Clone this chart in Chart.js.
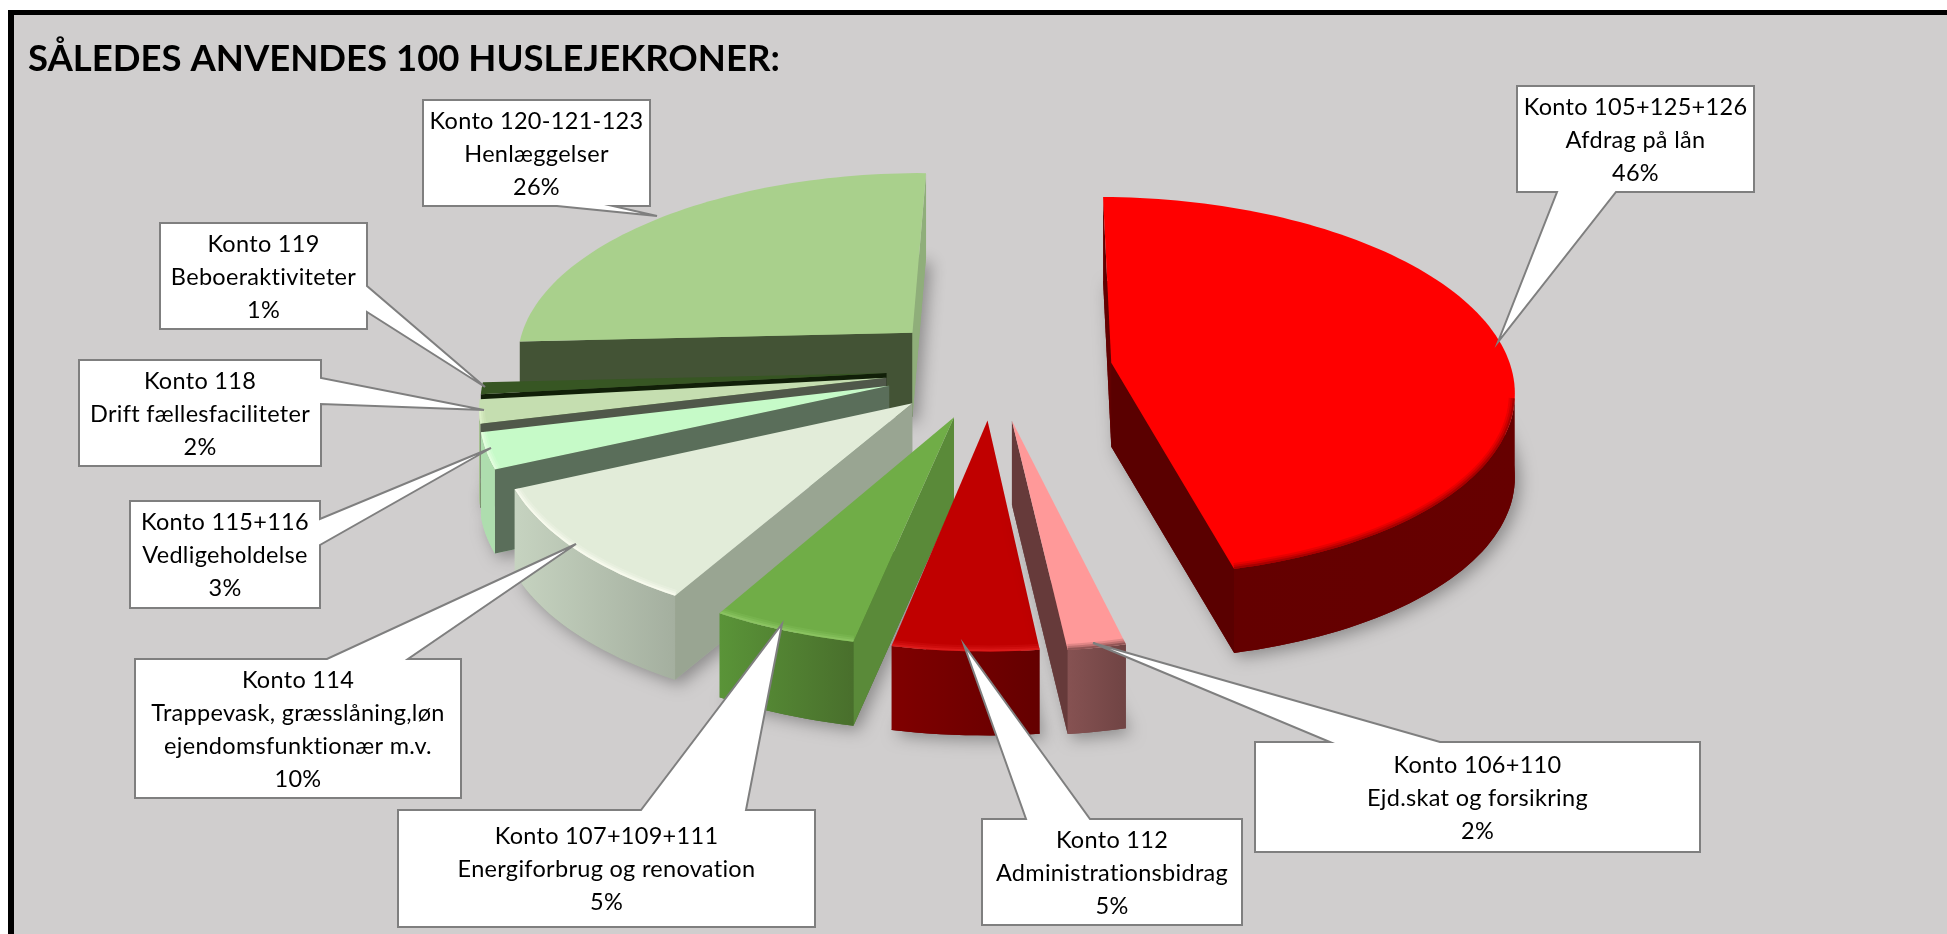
<!DOCTYPE html>
<html>
<head>
<meta charset="utf-8">
<title>Huslejekroner</title>
<script src="https://cdn.jsdelivr.net/npm/chart.js@4/dist/chart.umd.js"></script>
<style>
    html, body { margin: 0; padding: 0; background: #fff; overflow: hidden; }
    #frame { position: absolute; left: 8px; top: 10px; right: 0; bottom: 0; background: #D0CECE;
             border-left: 6px solid #000; border-top: 5px solid #000; }
    /* a bit wider than the window so the pie centre lands where it should */
    #wrap { position: absolute; left: 0; top: 0; width: 1957px; height: 934px; }
</style>
</head>
<body>
<div id="frame"></div>
<div id="wrap"><canvas id="chart"></canvas></div>
<script>
// Data, clockwise from the top
const accounts = ['Konto 105+125+126', 'Konto 106+110', 'Konto 112', 'Konto 107+109+111', 'Konto 114', 'Konto 115+116', 'Konto 118', 'Konto 119', 'Konto 120-121-123'];
const descriptions = [['Afdrag på lån'], ['Ejd.skat og forsikring'], ['Administrationsbidrag'], ['Energiforbrug og renovation'], ['Trappevask, græsslåning,løn', 'ejendomsfunktionær m.v.'], ['Vedligeholdelse'], ['Drift fællesfaciliteter'], ['Beboeraktiviteter'], ['Henlæggelser']];
const shares = [46, 2, 5, 5, 10, 3, 2, 1, 26];

// How far each slice is pulled out of the pie, in px of the 400px radius
const explode = [120, 108, 106, 106, 106, 108, 107, 106, 114];

// Slice colours
const topColors = ['#FF0000', '#FF9999', '#C00000', '#70AD47', '#E2ECD9', '#C6FAC8', '#C5DEB0', '#375623', '#A9D08C'];
const bevelColors = ['#8A0000', '#6E4040', '#E52222', '#93CB6A', '#FFFFF4', '#ECFFE6', '#E4F5CF', '#2B4519', '#BDE8A2'];
const wallLeft = ['#640000', '#865252', '#800000', '#5A9438', '#C6D3C0', '#AEDDAE', '#A5C090', '#2C4A1A', '#8FAE7A'];
const wallRight = ['#660000', '#704444', '#640000', '#496F2C', '#A4AF9F', '#AEDDAE', '#A5C090', '#2C4A1A', '#8FAE7A'];
const sideStart = ['#620000', '#663A3A', '#660000', '#5A8A39', '#99A592', '#5A6E5A', '#50584A', '#111F08', '#435335'];
const sideEnd = ['#5A0000', '#663A3A', '#660000', '#5A8A39', '#99A592', '#5A6E5A', '#50584A', '#111F08', '#8FAE7A'];

// Back to front
const paintOrder = [8, 7, 6, 5, 4, 3, 2, 1, 0];

// Callout boxes: [left, top, right, bottom], tip of the pointer and the two pointer base points
const callouts = [
    { box: [1517, 86, 1754, 192], side: 'bottom', base: [1557, 1616], tip: [1498, 342] },
    { box: [1255, 742, 1700, 852], side: 'top', base: [1330, 1440], tip: [1093, 643] },
    { box: [982, 819, 1242, 925], side: 'top', base: [1026, 1090], tip: [964, 645] },
    { box: [398, 810, 815, 927], side: 'top', base: [641, 746], tip: [782, 624] },
    { box: [135, 659, 461, 798], side: 'top', base: [327, 408], tip: [576, 544] },
    { box: [130, 501, 320, 608], side: 'right', base: [519, 545], tip: [491, 448] },
    { box: [79, 360, 321, 466], side: 'right', base: [378, 404], tip: [484, 410] },
    { box: [160, 223, 367, 329], side: 'right', base: [286, 312], tip: [485, 387] },
    { box: [423, 100, 650, 206], side: 'bottom', base: [557, 613], tip: [657, 216] }
];

const DEPTH = 84;      // height of the pie on screen
const SQUASH = 0.47;   // tilt of the pie
const PERSP = 0.125;   // perspective strength
const RADIUS = 400;

// Turns a point on a slice into screen coordinates
function makeProjector(arc) {
    const mid = (arc.startAngle + arc.endAngle) / 2;
    const e = arc.options.offset / arc.outerRadius;
    const apexU = e * Math.cos(mid);
    const apexV = e * Math.sin(mid);
    return {
        apexU: apexU,
        apexV: apexV,
        at: function (angle, r, drop) {
            const u = apexU + r * Math.cos(angle);
            const v = apexV + r * Math.sin(angle);
            const w = 1 - PERSP * v;
            return [arc.x + arc.outerRadius * u / w, arc.y + arc.outerRadius * SQUASH * v / w + (drop || 0)];
        }
    };
}

function tracePolygon(ctx, pts) {
    ctx.beginPath();
    pts.forEach((p, i) => i ? ctx.lineTo(p[0], p[1]) : ctx.moveTo(p[0], p[1]));
    ctx.closePath();
}

function drawSlice(ctx, arc, i) {
    const proj = makeProjector(arc);
    const a0 = arc.startAngle, a1 = arc.endAngle;
    const steps = Math.max(4, Math.ceil((a1 - a0) / (Math.PI / 120)));
    const eyeU = -proj.apexU, eyeV = 1 / PERSP - proj.apexV;

    const topArc = [], bottomArc = [], visibleTop = [];
    for (let s = 0; s <= steps; s++) {
        const a = a0 + (a1 - a0) * s / steps;
        topArc.push(proj.at(a, 1));
        bottomArc.push(proj.at(a, 1, DEPTH));
        if (Math.cos(a) * (eyeU - Math.cos(a)) + Math.sin(a) * (eyeV - Math.sin(a)) > 0) {
            visibleTop.push(s);
        }
    }
    const apex = proj.at(0, 0);
    const apexLow = proj.at(0, 0, DEPTH);
    const topFace = [apex].concat(topArc);

    // floor shadow
    ctx.save();
    ctx.shadowColor = 'rgba(0,0,0,0.32)';
    ctx.shadowBlur = 16;
    ctx.shadowOffsetX = 5;
    ctx.shadowOffsetY = 5;
    ctx.fillStyle = wallRight[i];
    tracePolygon(ctx, [apexLow].concat(bottomArc));
    ctx.fill();
    ctx.restore();

    // radial walls, only the ones facing the viewer
    if (Math.sin(a0) * eyeU - Math.cos(a0) * eyeV > 0) {
        ctx.fillStyle = sideStart[i];
        tracePolygon(ctx, [apex, topArc[0], bottomArc[0], apexLow]);
        ctx.fill();
    }
    if (-Math.sin(a1) * eyeU + Math.cos(a1) * eyeV > 0) {
        ctx.fillStyle = sideEnd[i];
        tracePolygon(ctx, [apex, topArc[steps], bottomArc[steps], apexLow]);
        ctx.fill();
    }

    // outer curved wall
    if (visibleTop.length > 1) {
        const first = visibleTop[0], last = visibleTop[visibleTop.length - 1];
        const upper = topArc.slice(first, last + 1);
        const lower = bottomArc.slice(first, last + 1).reverse();
        const xs = upper.map(p => p[0]);
        const grad = ctx.createLinearGradient(Math.min(...xs), 0, Math.max(...xs), 0);
        grad.addColorStop(0, wallLeft[i]);
        grad.addColorStop(1, wallRight[i]);
        ctx.fillStyle = grad;
        tracePolygon(ctx, upper.concat(lower));
        ctx.fill();
    }

    // top face
    ctx.fillStyle = topColors[i];
    tracePolygon(ctx, topFace);
    ctx.fill();

    // soft bevel along the rim
    if (visibleTop.length > 1) {
        const rim = topArc.slice(visibleTop[0], visibleTop[visibleTop.length - 1] + 1);
        ctx.save();
        tracePolygon(ctx, topFace);
        ctx.clip();
        ctx.strokeStyle = bevelColors[i];
        ctx.lineJoin = 'round';
        [[12, 0.2], [8, 0.3], [4, 0.55]].forEach(pass => {
            ctx.lineWidth = pass[0];
            ctx.globalAlpha = pass[1];
            ctx.beginPath();
            rim.forEach((p, n) => n ? ctx.lineTo(p[0], p[1]) : ctx.moveTo(p[0], p[1]));
            ctx.stroke();
        });
        ctx.restore();
    }
}

// Pie controller that paints the library's arcs as a tilted exploded pie
class Pie3dController extends Chart.PieController {
    draw() {
        const ctx = this.chart.ctx;
        const arcs = this.getMeta().data;
        paintOrder.forEach(i => drawSlice(ctx, arcs[i], i));
    }
}
Pie3dController.id = 'pie3d';
Pie3dController.defaults = Chart.PieController.defaults;
Chart.register(Pie3dController);

// Draws the callout boxes with their pointers and text
const calloutPlugin = {
    id: 'callouts',
    afterDatasetsDraw(chart) {
        const ctx = chart.ctx;
        callouts.forEach((c, i) => {
            const [l, t, r, b] = c.box;
            const pts = [[l, t]];
            if (c.side === 'top') pts.push([c.base[0], t], c.tip, [c.base[1], t]);
            pts.push([r, t]);
            if (c.side === 'right') pts.push([r, c.base[0]], c.tip, [r, c.base[1]]);
            pts.push([r, b]);
            if (c.side === 'bottom') pts.push([c.base[1], b], c.tip, [c.base[0], b]);
            pts.push([l, b]);
            tracePolygon(ctx, pts);
            ctx.fillStyle = '#FFFFFF';
            ctx.fill();
            ctx.strokeStyle = '#7F7F7F';
            ctx.lineWidth = 2;
            ctx.lineJoin = 'miter';
            ctx.stroke();

            const lines = [accounts[i]].concat(descriptions[i], shares[i] + '%');
            const step = 33;
            let y = (t + b) / 2 - step * (lines.length - 1) / 2 + 1;
            ctx.fillStyle = '#000';
            ctx.font = '23.5px Lato';
            ctx.letterSpacing = '0.3px';
            ctx.textAlign = 'center';
            ctx.textBaseline = 'middle';
            lines.forEach(line => {
                ctx.fillText(line, (l + r) / 2, y);
                y += step;
            });
            ctx.letterSpacing = '0px';
        });
    }
};

new Chart(document.getElementById('chart'), {
    type: 'pie3d',
    data: {
        labels: accounts,
        datasets: [{
            data: shares,
            offset: explode,
            backgroundColor: topColors,
            borderWidth: 0,
            clip: false
        }]
    },
    options: {
        responsive: true,
        maintainAspectRatio: false,
        animation: false,
        radius: RADIUS,
        rotation: 0.8,
        layout: { padding: { left: 28, bottom: 276.8 } },
        plugins: {
            legend: { display: false },
            tooltip: { enabled: false },
            title: {
                display: true,
                text: 'SÅLEDES ANVENDES 100 HUSLEJEKRONER:',
                align: 'start',
                color: '#000',
                font: { family: 'Lato', size: 36.5, weight: 'bold', lineHeight: 1.2 },
                padding: { top: 37, bottom: 0 }
            }
        }
    },
    plugins: [calloutPlugin]
});
</script>
</body>
</html>
